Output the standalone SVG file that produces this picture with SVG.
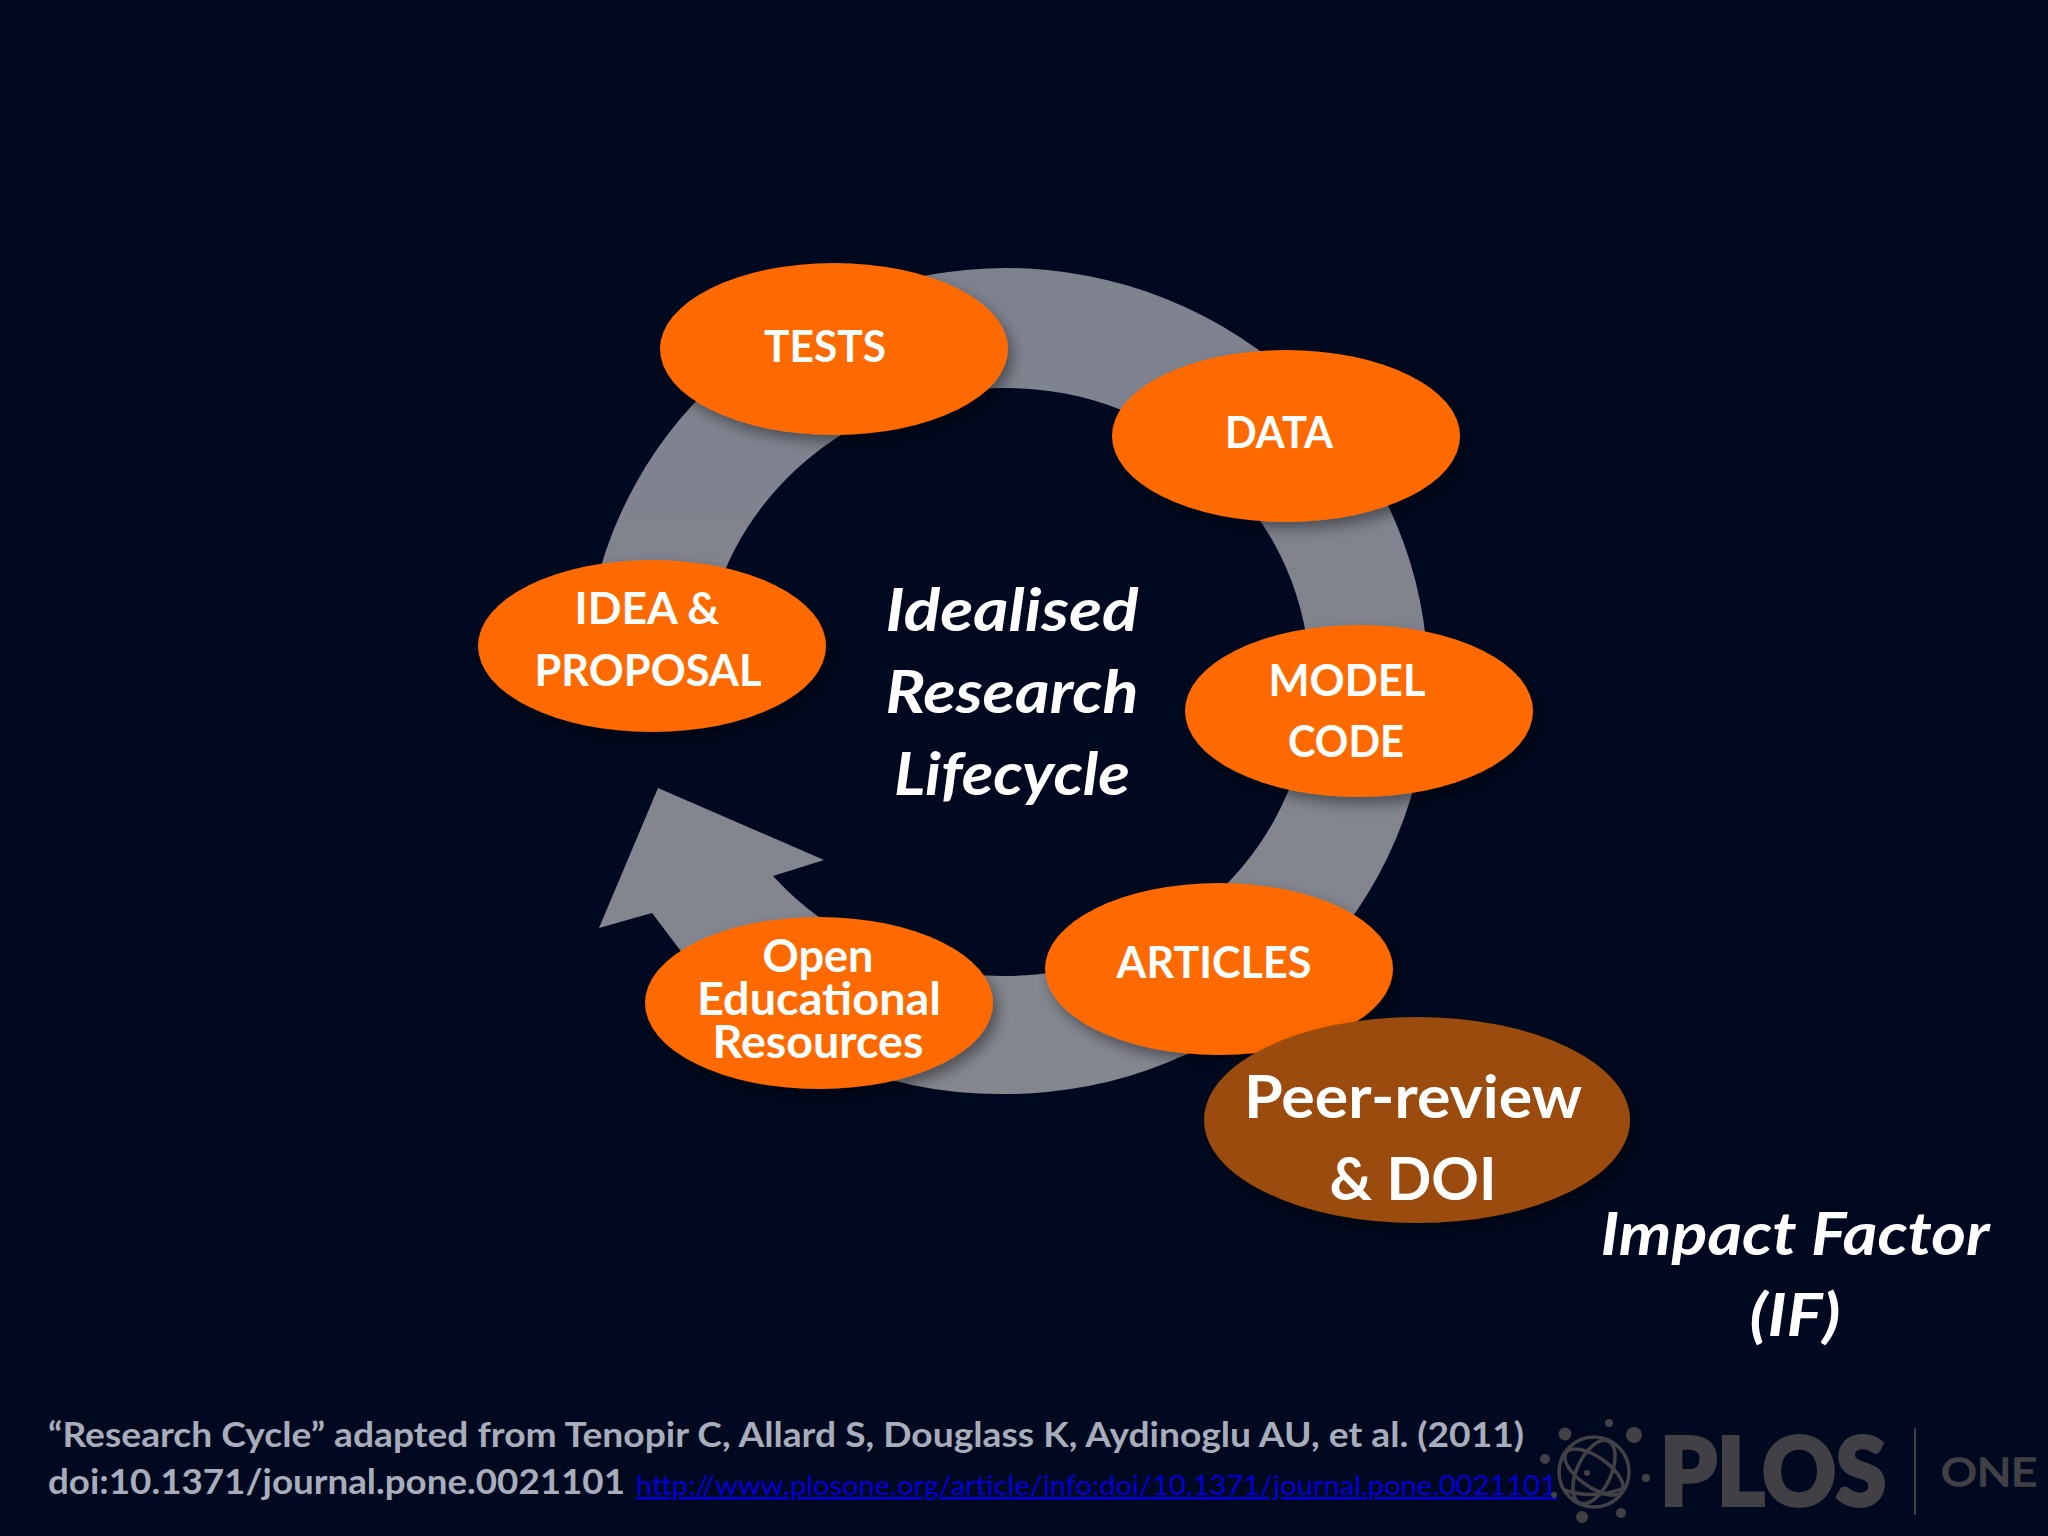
<svg xmlns="http://www.w3.org/2000/svg" width="2048" height="1536" viewBox="0 0 2048 1536">
<defs>
<linearGradient id="ringFill" x1="0" y1="0" x2="0" y2="1"><stop offset="0" stop-color="#7e828f"/><stop offset="1" stop-color="#85878f"/></linearGradient>
<filter id="sh" x="-20%" y="-20%" width="140%" height="150%"><feDropShadow dx="5" dy="7" stdDeviation="7" flood-color="#000" flood-opacity="0.4"/></filter>
<style>
text{font-family:Lato,"Liberation Sans",sans-serif;text-anchor:middle;font-weight:700;fill:#fff}
.n{font-size:44px}
.o{font-size:46px}
.p{font-size:60px}
.c{font-size:60px;font-style:italic}
.f{font-size:34px;fill:#a8adbc;text-anchor:start}
.l{font-size:26px;font-weight:400;fill:#0000dc;text-anchor:start;text-decoration:underline}
.e{fill:#ff6a00;filter:url(#sh)}
.g{fill:#414145}
</style>
</defs>
<rect width="2048" height="1536" fill="#00091f"/>
<g id="connectors">
<path id="cycle-arrow" fill="url(#ringFill)" d="M589 620A422 413 0 0 1 1006 268A422 413 0 0 1 1428 681A422 413 0 0 1 1006 1094A422 413 0 0 1 680 950L652 913L599 928L658 788L824 860L773 876A304 294 0 0 0 1006 976A304 294 0 0 0 1310 681A304 294 0 0 0 1006 388A304 294 0 0 0 709 620Z"/>
</g>
<g id="node-tests"><ellipse class="e" cx="834" cy="349" rx="174" ry="86"/><text class="n" x="825" y="362" textLength="122" lengthAdjust="spacingAndGlyphs">TESTS</text></g>
<g id="node-data"><ellipse class="e" cx="1286" cy="436" rx="174" ry="86"/><text class="n" x="1279" y="448" textLength="108" lengthAdjust="spacingAndGlyphs">DATA</text></g>
<g id="node-idea"><ellipse class="e" cx="652" cy="646" rx="174" ry="86"/><text class="n" x="647" y="624" textLength="145" lengthAdjust="spacingAndGlyphs">IDEA &amp;</text><text class="n" x="648" y="686" textLength="227" lengthAdjust="spacingAndGlyphs">PROPOSAL</text></g>
<g id="node-model"><ellipse class="e" cx="1359" cy="711" rx="174" ry="86"/><text class="n" x="1347" y="696" textLength="157" lengthAdjust="spacingAndGlyphs">MODEL</text><text class="n" x="1346" y="757" textLength="116" lengthAdjust="spacingAndGlyphs">CODE</text></g>
<g id="node-articles"><ellipse class="e" cx="1219" cy="969" rx="174" ry="86"/><text class="n" x="1214" y="978" textLength="195" lengthAdjust="spacingAndGlyphs">ARTICLES</text></g>
<g id="node-oer"><ellipse class="e" cx="819" cy="1003" rx="174" ry="86"/><text class="o" x="818" y="972" textLength="111" lengthAdjust="spacingAndGlyphs">Open</text><text class="o" x="819" y="1015" textLength="244" lengthAdjust="spacingAndGlyphs">Educational</text><text class="o" x="818" y="1058" textLength="211" lengthAdjust="spacingAndGlyphs">Resources</text></g>
<g id="node-peer"><ellipse cx="1417" cy="1120" rx="213" ry="103" fill="#9b4c08" filter="url(#sh)"/><text class="p" x="1413" y="1118" textLength="338" lengthAdjust="spacingAndGlyphs">Peer-review</text><text class="p" x="1413" y="1200" textLength="167" lengthAdjust="spacingAndGlyphs">&amp; DOI</text></g>
<g id="label-center"><text class="c" x="1012" y="631" textLength="253" lengthAdjust="spacingAndGlyphs">Idealised</text><text class="c" x="1012" y="713" textLength="253" lengthAdjust="spacingAndGlyphs">Research</text><text class="c" x="1012" y="795" textLength="236" lengthAdjust="spacingAndGlyphs">Lifecycle</text></g>
<g id="label-if"><text class="c" x="1795" y="1255" textLength="389" lengthAdjust="spacingAndGlyphs">Impact Factor</text><text class="c" x="1795" y="1336" textLength="91" lengthAdjust="spacingAndGlyphs">(IF)</text></g>
<g id="citation"><text class="f" x="48" y="1447" textLength="1476" lengthAdjust="spacingAndGlyphs">“Research Cycle” adapted from Tenopir C, Allard S, Douglass K, Aydinoglu AU, et al. (2011)</text><text class="f" x="48" y="1494" textLength="577" lengthAdjust="spacingAndGlyphs">doi:10.1371/journal.pone.0021101</text><text class="l" x="636" y="1495" textLength="921" lengthAdjust="spacingAndGlyphs">http://www.plosone.org/article/info:doi/10.1371/journal.pone.0021101</text></g>
<g id="logo">
<g fill="none" stroke="#414145" stroke-width="3.5"><circle cx="1594" cy="1472" r="35"/><ellipse cx="1594" cy="1472" rx="17" ry="34" transform="rotate(25 1594 1472)"/><ellipse cx="1594" cy="1472" rx="34" ry="15" transform="rotate(35 1594 1472)"/><path d="M1564 1490Q1594 1500 1624 1488"/></g>
<g class="g"><circle cx="1587" cy="1473" r="3"/><circle cx="1565" cy="1434" r="6.5"/><circle cx="1609" cy="1423" r="4"/><circle cx="1634" cy="1435" r="8"/><circle cx="1545" cy="1459" r="5"/><circle cx="1646" cy="1478" r="4"/><circle cx="1621" cy="1513" r="5"/><circle cx="1582" cy="1517" r="6"/><circle cx="1554" cy="1495" r="3"/></g>
<text x="1773" y="1505" font-size="94" style="font-weight:900;fill:#414145;stroke:#414145;stroke-width:4" textLength="226" lengthAdjust="spacingAndGlyphs">PLOS</text>
<rect x="1914" y="1428" width="2" height="87" fill="#414145"/>
<text x="1989" y="1486" font-size="39" style="font-weight:400;fill:#414145;stroke:#414145;stroke-width:1.5" textLength="96" lengthAdjust="spacingAndGlyphs">ONE</text>
</g>
</svg>
